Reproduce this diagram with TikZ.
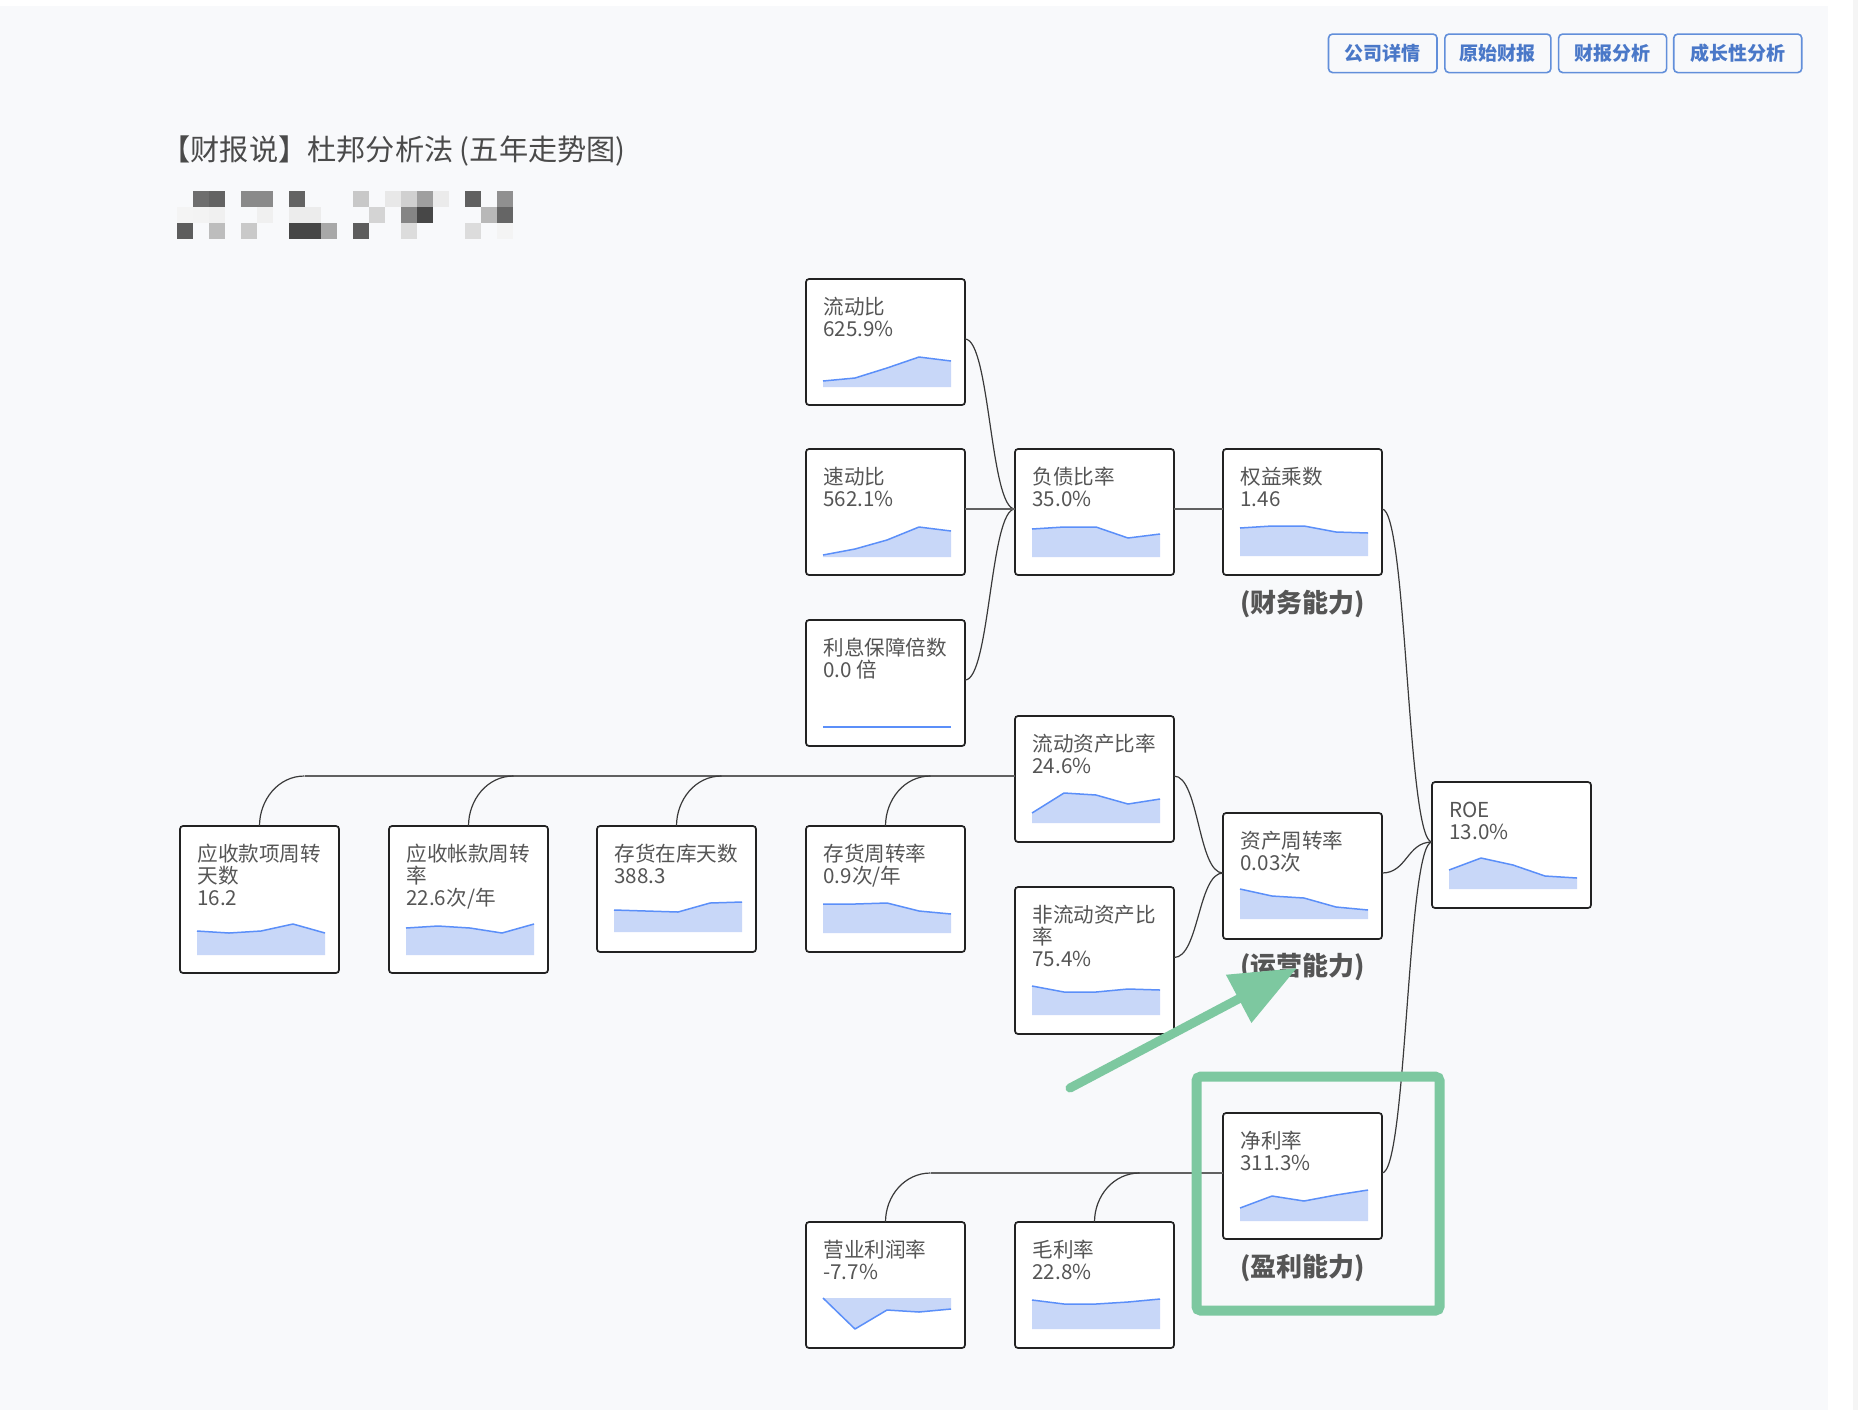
\documentclass[tikz,border=0pt]{standalone}
\usepackage{fontspec}
\setmainfont{Noto Sans CJK SC}
\usetikzlibrary{calc,arrows.meta}
\definecolor{bgc}{HTML}{F8F9FB}
\definecolor{txtc}{HTML}{555555}
\definecolor{titc}{HTML}{4A4A4A}
\definecolor{edgec}{HTML}{3A3A3A}
\definecolor{boxc}{HTML}{222222}
\definecolor{sfill}{HTML}{C8D7F8}
\definecolor{sline}{HTML}{5B8FF9}
\definecolor{grn}{HTML}{7DC8A0}
\definecolor{btnc}{HTML}{628FDA}
\definecolor{btnt}{HTML}{4A78C8}
\newcommand\mytwo[2]{\vtop{\baselineskip=11pt\lineskiplimit=-20pt\hbox{#1}\hbox{#2}}}
\newcommand\mythree[3]{\vtop{\baselineskip=11pt\lineskiplimit=-20pt\hbox{#1}\hbox{#2}\hbox{#3}}}
\newcommand\mkspark[7]{%
  \begin{scope}[shift={(#1.north west)}]
    \fill[sfill] (17,#2) -- (17,#3) -- (49,#4) -- (81,#5) -- (113,#6) -- (145,#7) -- (145,#2) -- cycle;
    \draw[sline, line width=0.75pt, line join=round] (17,#3) -- (49,#4) -- (81,#5) -- (113,#6) -- (145,#7);
  \end{scope}}
\tikzset{
  mbox/.style={draw=boxc, line width=0.85pt, fill=white, rounded corners=1.5pt,
    minimum width=79.5pt, minimum height=63pt, inner sep=0pt, outer sep=0pt, anchor=north west},
  tallbox/.style={minimum height=73.5pt},
  txt/.style={text=txtc, font=\fontsize{10.3pt}{11pt}\selectfont, inner sep=0pt, anchor=base west},
  link/.style={draw=edgec, line width=0.6pt},
  hlink/.style={draw=edgec!80, line width=0.6pt},
  captxt/.style={text=txtc, font=\bfseries\fontsize{13pt}{15pt}\selectfont, inner sep=0pt},
  btn/.style={draw=btnc, line width=0.8pt, rounded corners=2pt, text=btnt,
    font=\bfseries\fontsize{9.5pt}{11pt}\selectfont, minimum height=19.25pt, inner sep=0pt}
}
\begin{document}
\begin{tikzpicture}[x=0.5pt,y=-0.5pt]
\useasboundingbox (0,0) rectangle (1858,1410);
\fill[white] (0,0) rectangle (1858,1410);
\fill[bgc] (0,6) rectangle (1828,1410);
\fill[black!4] (1853,0) rectangle (1858,1410);

% buttons
\node[btn, minimum width=54.25pt] (b1) at (1382.75,53.3) {公司详情};
\node[btn, minimum width=53pt] (b2) at (1497.9,53.3) {原始财报};
\node[btn, minimum width=54pt] (b3) at (1612.6,53.3) {财报分析};
\node[btn, minimum width=64pt] (b4) at (1737.75,53.3) {成长性分析};

% title
\node[anchor=base west, text=titc, font=\fontsize{14.6pt}{16pt}\selectfont, inner sep=0pt] (title) at (161,160) {【财报说】杜邦分析法 (五年走势图)};

% pixelated block
\foreach \k/\r/\g in {1/0/110,2/0/99,4/0/138,5/0/138,7/0/99,11/0/200,13/0/232,14/0/208,15/0/159,16/0/235,18/0/96,20/0/144,
  0/1/244,1/1/243,2/1/240,5/1/240,7/1/236,8/1/236,12/1/212,14/1/133,15/1/71,19/1/184,20/1/101,
  0/2/93,2/2/189,4/2/201,7/2/70,8/2/70,9/2/168,11/2/93,14/2/220,18/2/220,20/2/244}{
  \definecolor{cellc}{RGB}{\g,\g,\g}
  \fill[cellc] ({176.8+16*\k},{190.5+16*\r}) rectangle ({192.8+16*\k},{206.5+16*\r});
}

% boxes
\node[mbox] (lr) at (806,279) {};
\node[mbox] (sd) at (806,449) {};
\node[mbox] (lx) at (806,620) {};
\node[mbox] (fz) at (1015,449) {};
\node[mbox] (qy) at (1223,449) {};
\node[mbox] (ldzc) at (1015,716) {};
\node[mbox,tallbox] (fld) at (1015,887) {};
\node[mbox] (zczz) at (1223,813) {};
\node[mbox] (roe) at (1432,782) {};
\node[mbox] (jll) at (1223,1113) {};
\node[mbox] (yy) at (806,1222) {};
\node[mbox] (ml) at (1015,1222) {};
\node[mbox,tallbox] (ys1) at (180,826) {};
\node[mbox,tallbox] (ys2) at (389,826) {};
\node[mbox] (ch1) at (597,826) {};
\node[mbox] (ch2) at (806,826) {};

% texts
\node[txt] (lrt) at ([xshift=8.5pt,yshift=-17.85pt]lr.north west) {\mytwo{流动比}{625.9\%}};
\node[txt] (sdt) at ([xshift=8.5pt,yshift=-17.85pt]sd.north west) {\mytwo{速动比}{562.1\%}};
\node[txt] (lxt) at ([xshift=8.5pt,yshift=-17.85pt]lx.north west) {\mytwo{利息保障倍数}{0.0 倍}};
\node[txt] (fzt) at ([xshift=8.5pt,yshift=-17.85pt]fz.north west) {\mytwo{负债比率}{35.0\%}};
\node[txt] (qyt) at ([xshift=8.5pt,yshift=-17.85pt]qy.north west) {\mytwo{权益乘数}{1.46}};
\node[txt] (ldzct) at ([xshift=8.5pt,yshift=-17.85pt]ldzc.north west) {\mytwo{流动资产比率}{24.6\%}};
\node[txt] (fldt) at ([xshift=8.5pt,yshift=-17.85pt]fld.north west) {\mythree{非流动资产比}{率}{75.4\%}};
\node[txt] (zczzt) at ([xshift=8.5pt,yshift=-17.85pt]zczz.north west) {\mytwo{资产周转率}{0.03次}};
\node[txt] (roet) at ([xshift=8.5pt,yshift=-17.85pt]roe.north west) {\mytwo{ROE}{13.0\%}};
\node[txt] (jllt) at ([xshift=8.5pt,yshift=-17.85pt]jll.north west) {\mytwo{净利率}{311.3\%}};
\node[txt] (yyt) at ([xshift=8.5pt,yshift=-17.85pt]yy.north west) {\mytwo{营业利润率}{-7.7\%}};
\node[txt] (mlt) at ([xshift=8.5pt,yshift=-17.85pt]ml.north west) {\mytwo{毛利率}{22.8\%}};
\node[txt] (ys1t) at ([xshift=8.5pt,yshift=-17.85pt]ys1.north west) {\mythree{应收款项周转}{天数}{16.2}};
\node[txt] (ys2t) at ([xshift=8.5pt,yshift=-17.85pt]ys2.north west) {\mythree{应收帐款周转}{率}{22.6次/年}};
\node[txt] (ch1t) at ([xshift=8.5pt,yshift=-17.85pt]ch1.north west) {\mytwo{存货在库天数}{388.3}};
\node[txt] (ch2t) at ([xshift=8.5pt,yshift=-17.85pt]ch2.north west) {\mytwo{存货周转率}{0.9次/年}};

% sparklines: node, base, five values
\mkspark{lr}{108}{102}{99}{89}{78}{82}
\mkspark{sd}{108}{106}{100}{91}{78}{82}
\mkspark{lx}{107}{107}{107}{107}{107}{107}
\mkspark{fz}{108}{80}{78}{78}{89}{85}
\mkspark{qy}{107}{79}{77}{77}{83}{84}
\mkspark{ldzc}{107}{97}{77}{79}{88}{83}
\mkspark{fld}{128}{99}{105}{105}{102}{103}
\mkspark{zczz}{106}{76}{83}{85}{94}{97}
\mkspark{roe}{107}{88}{76}{83}{94}{96}
\mkspark{jll}{108}{95}{83}{88}{82}{77}
\mkspark{yy}{76}{76}{107}{88}{90}{87}
\mkspark{ml}{107}{78}{82}{82}{80}{77}
\mkspark{ys1}{129}{105}{107}{105}{98}{107}
\mkspark{ys2}{129}{102}{100}{102}{107}{98}
\mkspark{ch1}{106}{84}{85}{86}{77}{76}
\mkspark{ch2}{107}{78}{78}{77}{85}{88}

% anchors
\coordinate (roeA) at ([yshift=1.5pt]roe.west);
\coordinate (qyE) at ([yshift=1.5pt]qy.east);
\coordinate (qyW) at ([yshift=1.5pt]qy.west);
\coordinate (zczzE) at ([yshift=1.5pt]zczz.east);
\coordinate (zczzW) at ([yshift=1.5pt]zczz.west);
\coordinate (jllE) at ([yshift=1.5pt]jll.east);
\coordinate (jllW) at ([yshift=1.5pt]jll.west);
\coordinate (fzE) at ([yshift=1.5pt]fz.east);
\coordinate (fzW) at ([yshift=1.5pt]fz.west);
\coordinate (lrE) at ([yshift=1.5pt]lr.east);
\coordinate (sdE) at ([yshift=1.5pt]sd.east);
\coordinate (lxE) at ([yshift=1.5pt]lx.east);
\coordinate (ldzcE) at ([yshift=1.5pt]ldzc.east);
\coordinate (ldzcW) at ([yshift=1.5pt]ldzc.west);
\coordinate (fldE) at ([yshift=1.5pt]fld.east);

% ROE links
\foreach \c in {qyE,zczzE,jllE}{
  \draw[link] (roeA) .. controls ($(roeA)+(-25,0)$) and ($(\c)+(25,0)$) .. (\c);
}
\draw[hlink] (qyW) -- (fzE);
\foreach \c in {lrE,lxE}{
  \draw[link] (fzW) .. controls ($(fzW)+(-25,0)$) and ($(\c)+(25,0)$) .. (\c);
}
\draw[hlink] (fzW) -- (sdE);
\foreach \c in {ldzcE,fldE}{
  \draw[link] (zczzW) .. controls ($(zczzW)+(-25,0)$) and ($(\c)+(25,0)$) .. (\c);
}

% bottom-left links
\coordinate (k1) at ($(ys1.north)+(45,0)$);
\coordinate (k2) at ($(ys2.north)+(45,0)$);
\coordinate (k3) at ($(ch1.north)+(45,0)$);
\coordinate (k4) at ($(ch2.north)+(45,0)$);
\draw[hlink] (ldzcW) -- (k1 |- ldzcW);
\draw[link] (ys1.north) to[out=90,in=180] (k1 |- ldzcW);
\draw[link] (ys2.north) to[out=90,in=180] (k2 |- ldzcW);
\draw[link] (ch1.north) to[out=90,in=180] (k3 |- ldzcW);
\draw[link] (ch2.north) to[out=90,in=180] (k4 |- ldzcW);

% bottom links
\coordinate (m1) at ($(yy.north)+(45,0)$);
\coordinate (m2) at ($(ml.north)+(45,0)$);
\draw[hlink] (jllW) -- (m1 |- jllW);
\draw[link] (yy.north) to[out=90,in=180] (m1 |- jllW);
\draw[link] (ml.north) to[out=90,in=180] (m2 |- jllW);

% captions
\node[captxt] (cap1) at (1302.5,604) {(财务能力)};
\node[captxt] (cap2) at (1302.5,967) {(运营能力)};
\node[captxt] (cap3) at (1302.5,1268) {(盈利能力)};

% highlight
\draw[grn, line width=5pt, rounded corners=2pt] (1196.5,1076.7) rectangle (1439.5,1310.5);
\coordinate (atail) at (1070,1088);
\coordinate (ahead) at (1297,968);
\draw[grn, line width=4.5pt, line cap=round, -{Triangle[length=33pt,width=26pt]}] (atail) -- (ahead);
\end{tikzpicture}
\end{document}
